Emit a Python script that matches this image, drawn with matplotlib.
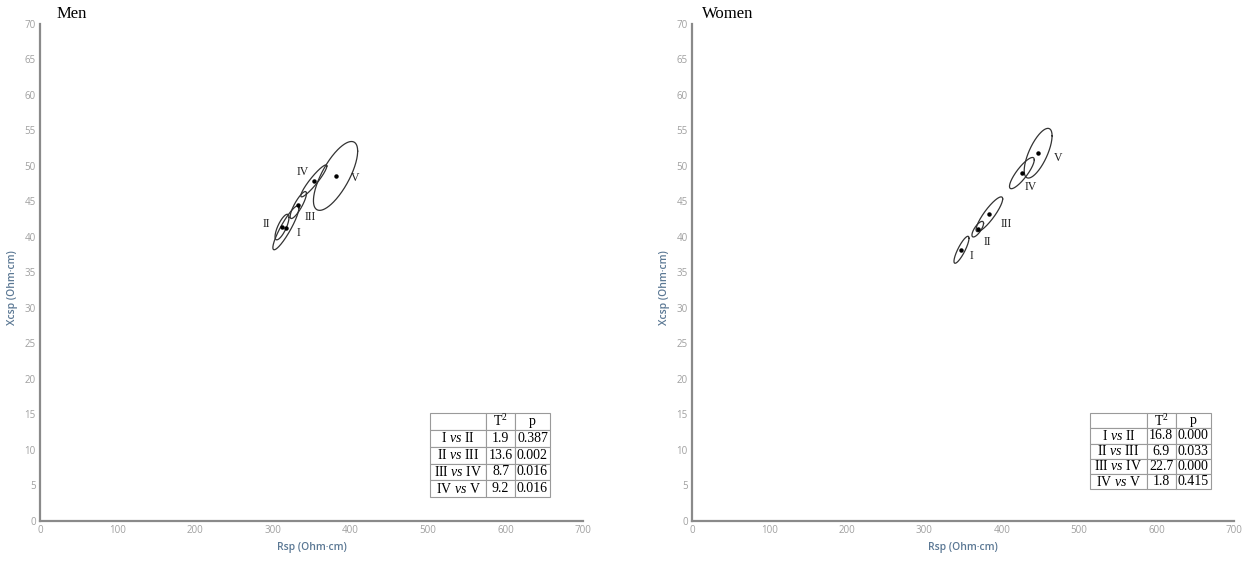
import numpy as np
import matplotlib
matplotlib.use("Agg")
import matplotlib.pyplot as plt

plt.rcParams['mathtext.fontset'] = 'custom'
plt.rcParams['mathtext.rm'] = 'Liberation Serif'
plt.rcParams['mathtext.it'] = 'Liberation Serif:italic'

groups = ["I", "II", "III", "IV", "V"]

# men: ellipse centres (Rsp, Xcsp), half extents and correlation
men_rsp = [317, 312, 333, 353, 381]
men_xcsp = [41.3, 41.4, 44.5, 47.9, 48.6]
men_dx = [16.8, 9.0, 10.5, 16.8, 28.5]
men_dy = [3.1, 1.8, 1.9, 2.25, 4.85]
men_r = [0.9, 0.75, 0.85, 0.93, 0.72]
men_lab_x = [333, 292, 348, 339, 406]
men_lab_y = [40.6, 41.8, 42.8, 49.2, 48.3]

# women
wom_rsp = [348, 369, 384, 426, 447]
wom_xcsp = [38.2, 41.1, 43.2, 49.0, 51.8]
wom_dx = [9.7, 7.5, 17.2, 16.0, 18.0]
wom_dy = [1.9, 1.1, 2.45, 2.2, 3.5]
wom_r = [0.85, 0.75, 0.88, 0.85, 0.7]
wom_lab_x = [361, 381, 406, 437, 473]
wom_lab_y = [37.3, 39.3, 41.9, 47.1, 51.1]

comparisons = ["I $\\it{vs}$ II", "II $\\it{vs}$ III", "III $\\it{vs}$ IV", "IV $\\it{vs}$ V"]
men_t2 = ["1.9", "13.6", "8.7", "9.2"]
men_p = ["0.387", "0.002", "0.016", "0.016"]
wom_t2 = ["16.8", "6.9", "22.7", "1.8"]
wom_p = ["0.000", "0.033", "0.000", "0.415"]

fig = plt.figure(figsize=(12.46, 5.81), dpi=100)
ax1 = fig.add_axes([0.0321, 0.1033, 0.4358, 0.8554])
ax2 = fig.add_axes([0.5554, 0.1033, 0.4350, 0.8554])


def draw_panel(ax, title, tx, rsp, xcsp, dx, dy, r, lx, ly, t2, p, tbox):
    t = np.linspace(0, 2 * np.pi, 300)
    for i in range(len(rsp)):
        ex = rsp[i] + dx[i] * np.cos(t)
        ey = xcsp[i] + dy[i] * (r[i] * np.cos(t) + np.sqrt(1 - r[i] ** 2) * np.sin(t))
        ax.plot(ex, ey, color="#333333", lw=0.9)
        ax.text(lx[i], ly[i], groups[i], fontsize=8.5, family="Liberation Serif",
                ha="center", va="center", color="#222222")
    ax.plot(rsp, xcsp, "o", color="black", ms=2.2, ls="none")

    ax.set_xlim(0, 700)
    ax.set_ylim(0, 70)
    ax.set_xticks(range(0, 701, 100))
    ax.set_yticks(range(0, 71, 5))
    for s in ["top", "right"]:
        ax.spines[s].set_visible(False)
    for s in ["left", "bottom"]:
        ax.spines[s].set_color("#8a8a8a")
        ax.spines[s].set_linewidth(1.6)
    ax.tick_params(length=0, labelsize=7, labelcolor="#a0a0a0", pad=3)
    for lab in ax.get_xticklabels() + ax.get_yticklabels():
        lab.set_family("Open Sans")
    ax.set_xlabel("Rsp (Ohm·cm)", fontsize=7.5, color="#5b7894", family="Open Sans",
                  fontweight="semibold", labelpad=4)
    ax.set_ylabel("Xcsp (Ohm·cm)", fontsize=7.5, color="#5b7894", family="Open Sans",
                  fontweight="semibold")
    ax.yaxis.set_label_coords(-0.04, 0.47)
    ax.text(tx, 1.02, title, transform=ax.transAxes, fontsize=12,
            family="Liberation Serif", ha="left", va="center")

    cells = [["", "T$^2$", "p"]]
    for k in range(len(comparisons)):
        cells.append([comparisons[k], t2[k], p[k]])
    tb = ax.table(cellText=cells, bbox=tbox, cellLoc="center",
                  colWidths=[0.47, 0.24, 0.29])
    tb.auto_set_font_size(False)
    for (ri, ci), c in tb.get_celld().items():
        c.set_edgecolor("#9a9a9a")
        c.set_linewidth(0.8)
        c.get_text().set_fontsize(10)
        c.get_text().set_family("Liberation Serif")
        c.PAD = 0.02


draw_panel(ax1, "Men", 0.031, men_rsp, men_xcsp, men_dx, men_dy, men_r, men_lab_x, men_lab_y,
           men_t2, men_p, [0.718, 0.048, 0.221, 0.169])
draw_panel(ax2, "Women", 0.018, wom_rsp, wom_xcsp, wom_dx, wom_dy, wom_r, wom_lab_x, wom_lab_y,
           wom_t2, wom_p, [0.734, 0.064, 0.223, 0.153])

fig.savefig("out.png", dpi=100, facecolor="white")
